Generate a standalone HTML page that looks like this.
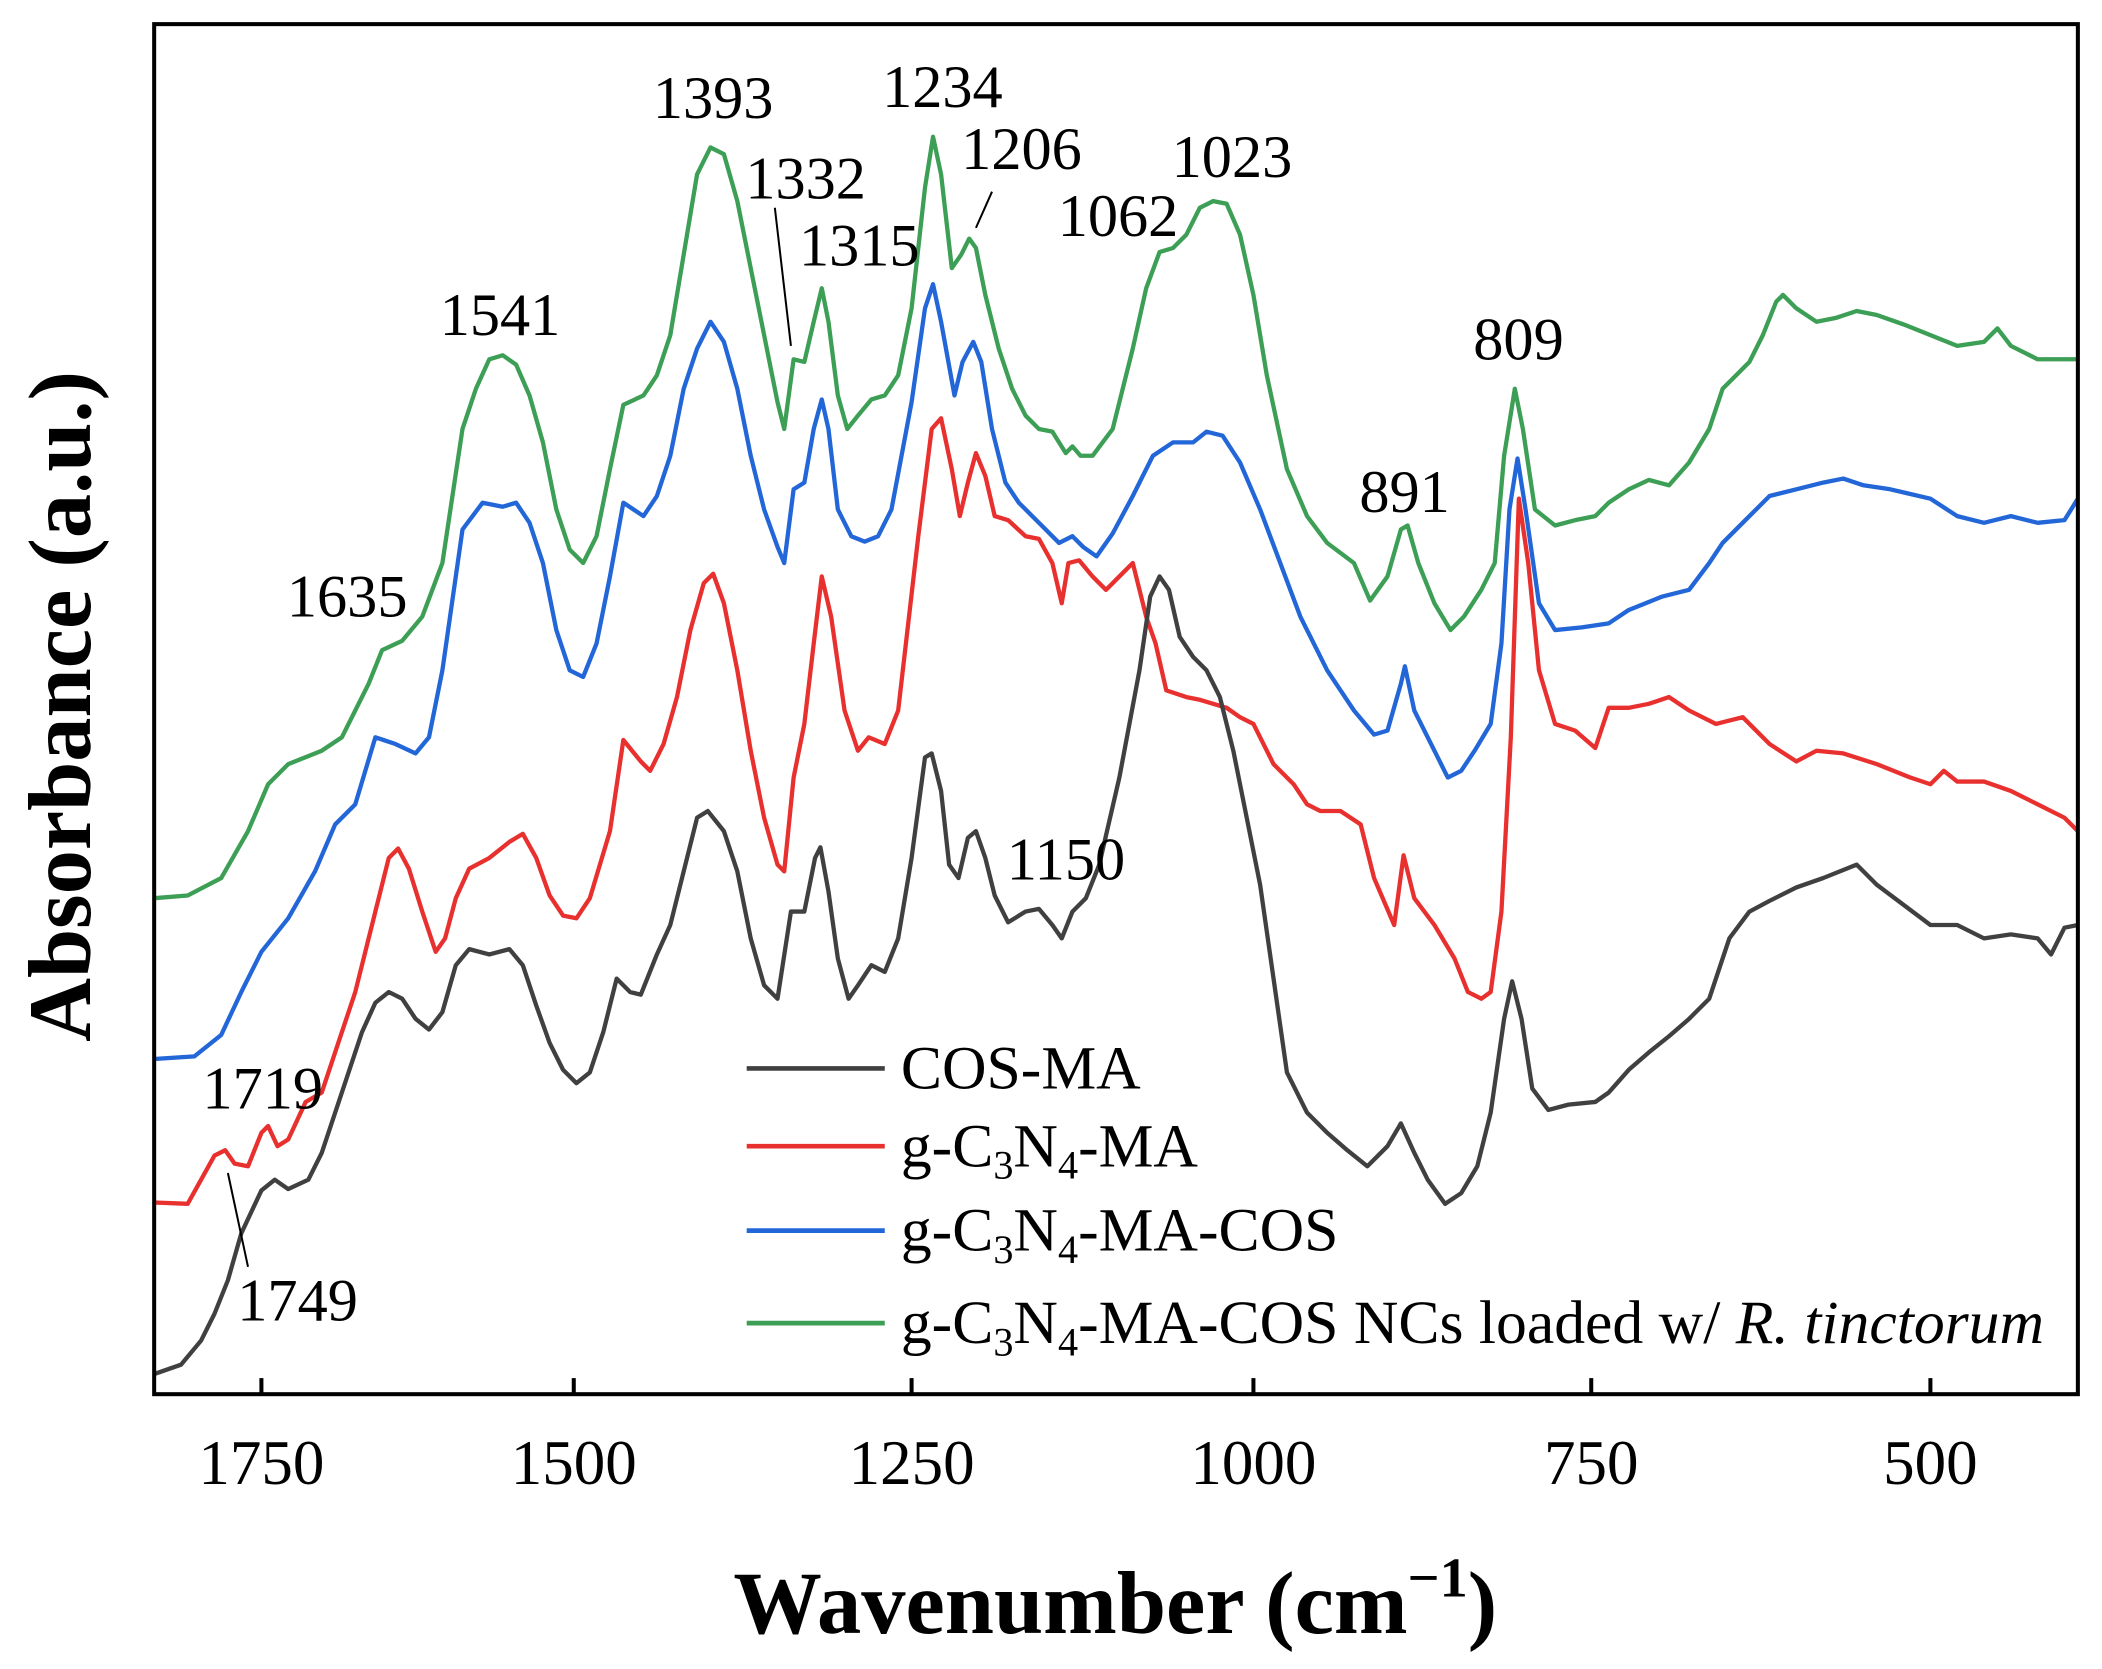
<!DOCTYPE html>
<html><head><meta charset="utf-8"><style>
html,body{margin:0;padding:0;background:#fff;}
svg{display:block;}
text{font-family:"Liberation Serif",serif;fill:#000;}
</style></head><body>
<svg width="2102" height="1669" viewBox="0 0 1568 1245" preserveAspectRatio="none" xmlns="http://www.w3.org/2000/svg">
<rect x="0" y="0" width="1568" height="1245" fill="#fff"/>
<g fill="none" stroke-width="3.2" stroke-linejoin="round">
<polyline stroke="#3c9f55" points="115,670 140,668 165,655 185,620 200,585 215,570 240,560 255,550 265,530 275,510 285,485 300,478 315,460 330,420 345,320 355,290 365,268 375,265 385,272 395,295 405,330 415,380 425,410 435,420 445,400 455,350 465,302 480,295 490,280 500,250 510,190 520,130 530,110 540,115 550,150 560,200 570,250 580,300 585,320 592,268 600,270 607,240 613,215 618,240 625,295 632,320 640,310 650,298 660,295 670,280 680,230 690,140 696,102 702,130 710,200 717,190 723,178 728,185 735,220 745,260 755,290 765,310 775,320 785,322 795,338 800,333 806,340 815,340 830,320 845,260 855,215 865,188 875,185 885,175 895,155 905,150 915,152 925,175 935,220 945,280 960,350 975,385 990,405 1010,420 1022,448 1035,430 1045,395 1050,392 1058,420 1070,450 1082,470 1092,460 1105,440 1115,420 1122,340 1130,290 1136,320 1145,380 1160,392 1175,388 1190,385 1200,375 1215,365 1230,358 1245,362 1260,345 1275,320 1285,290 1295,280 1305,270 1315,250 1325,225 1330,220 1340,230 1355,240 1370,237 1385,232 1400,235 1420,242 1440,250 1460,258 1480,255 1490,245 1500,258 1520,268 1550,268"/>
<polyline stroke="#2266d8" points="115,790 145,788 165,772 180,740 195,710 215,685 235,650 250,615 265,600 280,550 295,555 310,562 320,550 330,500 345,395 360,375 375,378 385,375 395,390 405,420 415,470 425,500 435,505 445,480 455,430 465,375 480,385 490,370 500,340 510,290 520,260 530,240 540,255 550,290 560,340 570,380 580,408 585,420 592,365 600,360 607,320 613,298 618,320 625,380 635,400 645,404 655,400 665,380 680,300 690,230 696,212 702,240 712,295 718,270 726,255 732,270 740,320 750,360 760,375 770,385 780,395 790,405 800,400 808,408 818,415 830,398 845,370 860,340 875,330 890,330 900,322 912,325 925,345 940,380 955,420 970,460 990,500 1010,530 1025,548 1035,545 1045,510 1048,497 1055,530 1070,560 1080,580 1090,575 1100,560 1112,540 1120,480 1126,380 1132,342 1138,380 1148,450 1160,470 1180,468 1200,465 1215,455 1240,445 1260,440 1275,420 1285,405 1300,390 1320,370 1340,365 1360,360 1375,357 1390,362 1410,365 1440,372 1460,385 1480,390 1500,385 1520,390 1540,388 1550,372"/>
<polyline stroke="#e8312f" points="115,897 140,898 150,880 160,862 168,858 175,868 185,870 195,845 200,840 207,855 215,850 228,822 240,815 255,770 265,740 280,680 290,640 297,633 305,648 315,680 325,710 332,700 340,670 350,648 365,640 380,628 390,622 400,640 410,668 420,683 430,685 440,670 455,620 465,552 478,568 485,575 495,555 505,520 515,470 525,435 532,428 540,450 550,500 560,560 570,610 580,645 585,650 592,580 600,540 607,480 613,430 620,460 630,530 640,560 648,550 660,555 670,530 685,400 695,320 702,312 710,350 716,385 722,360 728,338 735,355 742,385 752,388 765,400 775,402 785,420 792,450 797,420 805,418 815,430 825,440 835,430 845,420 855,460 862,480 870,515 885,520 895,522 905,525 915,528 925,535 935,540 950,570 965,585 975,600 985,605 1000,605 1015,615 1025,655 1040,690 1047,638 1055,670 1070,690 1085,715 1095,740 1105,745 1112,740 1120,680 1127,550 1133,372 1140,420 1148,500 1160,540 1175,545 1190,558 1200,528 1215,528 1230,525 1245,520 1260,530 1280,540 1300,535 1320,555 1340,568 1355,560 1375,562 1400,570 1425,580 1440,585 1450,575 1460,583 1480,583 1500,590 1520,600 1540,610 1550,620"/>
<polyline stroke="#404040" points="115,1025 135,1018 150,1000 160,980 170,955 180,920 195,888 205,880 215,887 230,880 240,860 250,830 260,800 270,770 280,748 290,740 300,745 310,760 320,768 330,755 340,720 350,708 365,712 380,708 390,720 400,750 410,778 420,798 430,808 440,800 450,770 460,730 470,740 478,742 490,712 500,690 510,650 520,610 528,605 540,620 550,650 560,700 570,735 580,745 590,680 600,680 608,640 612,632 618,665 625,715 633,745 640,735 650,720 660,725 670,700 680,640 690,565 695,562 702,590 708,645 715,655 722,625 728,620 735,640 742,668 752,688 765,680 775,678 785,690 792,700 800,680 810,670 820,645 835,580 850,500 858,445 865,430 872,440 880,475 890,490 900,500 910,520 920,560 930,610 940,660 950,730 960,800 975,830 990,845 1005,858 1020,870 1035,855 1045,838 1055,860 1065,880 1078,898 1090,890 1102,870 1112,830 1122,760 1128,732 1135,760 1143,812 1155,828 1170,824 1190,822 1200,815 1215,798 1230,785 1245,773 1260,760 1275,745 1290,700 1305,680 1320,672 1340,662 1360,655 1385,645 1400,660 1420,675 1440,690 1460,690 1480,700 1500,697 1520,700 1530,712 1540,692 1550,690"/>
</g>
<rect x="115" y="18" width="1435" height="1022" fill="none" stroke="#000" stroke-width="3"/>
<g stroke="#000" stroke-width="3">
<line x1="195" y1="1040" x2="195" y2="1028"/><line x1="428" y1="1040" x2="428" y2="1028"/><line x1="680" y1="1040" x2="680" y2="1028"/><line x1="935" y1="1040" x2="935" y2="1028"/><line x1="1187" y1="1040" x2="1187" y2="1028"/><line x1="1440" y1="1040" x2="1440" y2="1028"/>
</g>
<g font-size="47" text-anchor="middle">
<text x="195" y="1107">1750</text><text x="428" y="1107">1500</text><text x="680" y="1107">1250</text><text x="935" y="1107">1000</text><text x="1187" y="1107">750</text><text x="1440" y="1107">500</text>
</g>
<text x="832" y="1218" font-size="66" font-weight="bold" text-anchor="middle">Wavenumber (cm<tspan font-size="42" dy="-27">−1</tspan><tspan dy="27">)</tspan></text>
<text transform="translate(67,527) rotate(-90)" font-size="66" font-weight="bold" text-anchor="middle">Absorbance (a.u.)</text>
<g font-size="45">
<text x="214" y="460">1635</text><text x="328" y="250">1541</text><text x="487" y="88">1393</text><text x="556" y="148">1332</text><text x="596" y="198">1315</text><text x="658" y="80">1234</text><text x="717" y="126">1206</text><text x="789" y="176">1062</text><text x="874" y="132">1023</text><text x="1099" y="268">809</text><text x="1014" y="382">891</text><text x="751" y="656">1150</text><text x="151" y="827">1719</text><text x="177" y="985">1749</text>
</g>
<g stroke="#000" stroke-width="1.5">
<line x1="578" y1="155" x2="590" y2="258"/><line x1="740" y1="143" x2="728" y2="170"/><line x1="170" y1="875" x2="185" y2="945"/>
</g>
<g stroke-width="3.5">
<line x1="557" y1="797" x2="660" y2="797" stroke="#404040"/>
<line x1="557" y1="855" x2="660" y2="855" stroke="#e8312f"/>
<line x1="557" y1="918" x2="660" y2="918" stroke="#2266d8"/>
<line x1="557" y1="987" x2="660" y2="987" stroke="#3c9f55"/>
</g>
<g font-size="46">
<text x="672" y="812">COS-MA</text>
<text x="672" y="870">g-C<tspan font-size="30" dy="9">3</tspan><tspan dy="-9">N</tspan><tspan font-size="30" dy="9">4</tspan><tspan dy="-9">-MA</tspan></text>
<text x="672" y="933">g-C<tspan font-size="30" dy="9">3</tspan><tspan dy="-9">N</tspan><tspan font-size="30" dy="9">4</tspan><tspan dy="-9">-MA-COS</tspan></text>
<text x="672" y="1002">g-C<tspan font-size="30" dy="9">3</tspan><tspan dy="-9">N</tspan><tspan font-size="30" dy="9">4</tspan><tspan dy="-9">-MA-COS NCs loaded w/ </tspan><tspan font-style="italic">R. tinctorum</tspan></text>
</g>
</svg>
</body></html>
